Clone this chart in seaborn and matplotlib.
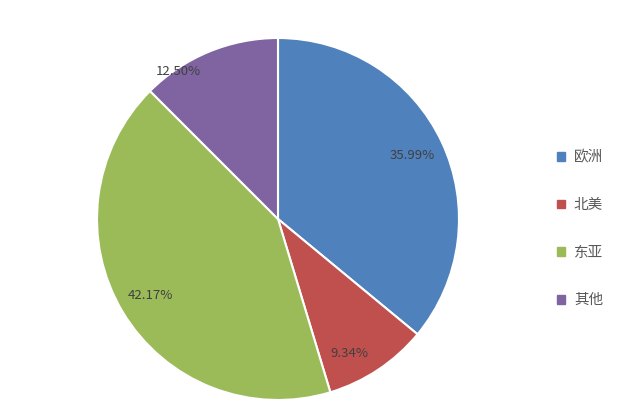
import numpy as np
import matplotlib
matplotlib.use("Agg")
import matplotlib.pyplot as plt
import seaborn as sns
from matplotlib.patches import Patch

regions = ["欧洲", "北美", "东亚", "其他"]
shares = [35.99, 9.34, 42.17, 12.50]
colors = ["#4F81BD", "#C0504D", "#9BBB59", "#8064A2"]

sns.set_style("white")
plt.rcParams['font.family'] = ['Noto Sans CJK SC', 'DejaVu Sans']

fig = plt.figure(figsize=(6.23, 4.17), dpi=100)
ax = fig.add_axes([97 / 623, 17 / 417, 362 / 623, 362 / 417])

wedges, texts, autotexts = ax.pie(
    shares, colors=colors, startangle=90, counterclock=False,
    autopct=lambda p: f"{p:.2f}%", pctdistance=0.82,
    wedgeprops=dict(edgecolor="white", linewidth=1.5),
    textprops=dict(color="#404040", fontsize=9.5),
)
# the small slice label sits near the edge in the original
ang = np.deg2rad(124)
autotexts[3].set_position((0.98 * np.cos(ang), 0.98 * np.sin(ang)))
autotexts[1].set_position((0.84 * np.cos(np.deg2rad(-62)), 0.84 * np.sin(np.deg2rad(-62))))
ax.set_xlim(-1, 1)
ax.set_ylim(-1, 1)
ax.set_aspect("equal")

handles = [Patch(facecolor=c, edgecolor=c) for c in colors]
leg = fig.legend(handles, regions, loc="center left", bbox_to_anchor=(544 / 623, 1 - 229 / 417),
                 frameon=False, fontsize=10.5, handlelength=0.55, handleheight=0.55,
                 handletextpad=0.6, labelspacing=2.3, labelcolor="#595959")

fig.savefig("out.png", dpi=100, facecolor="white")
